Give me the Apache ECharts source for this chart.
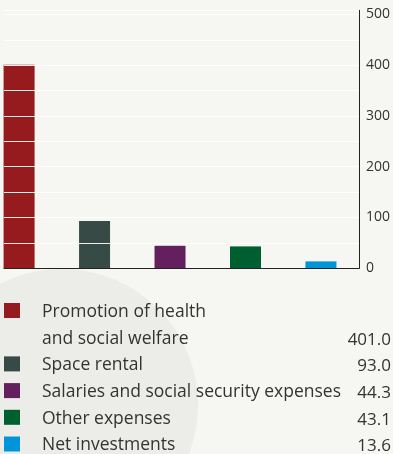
<!DOCTYPE html>
<html>
<head>
<meta charset="utf-8">
<script src="https://cdn.jsdelivr.net/npm/echarts@6/dist/echarts.min.js"></script>
<style>
  html, body { margin: 0; padding: 0; background: #f6f6f2; }
  #chart { width: 393px; height: 454px; }
</style>
</head>
<body>
<div id="chart"></div>
<script>
// Expense categories and amounts
const categories = [
  'Promotion of health\nand social welfare',
  'Space rental',
  'Salaries and social security expenses',
  'Other expenses',
  'Net investments'
];
const values = [401.0, 93.0, 44.3, 43.1, 13.6];
const yTicks = [0, 100, 200, 300, 400, 500];

// Palette, one colour per category
const palette = ['#961b1e', '#374a45', '#641f5e', '#005f31', '#0094d8'];

const chart = echarts.init(document.getElementById('chart'));
const font = '"Open Sans", "Noto Sans", sans-serif';
const textColor = '#333333';

// Legend block below the plot: swatch, name, value
const rowH = 26.7;
const legendTop = 300;
const graphics = [
  { type: 'circle', shape: { cx: 62, cy: 405, r: 136 }, style: { fill: '#ececE8' }, z: -10, silent: true }
];
let row = 0;
categories.forEach((name, i) => {
  const lines = name.split('\n');
  const y0 = legendTop + row * rowH;
  graphics.push({
    type: 'rect',
    shape: { x: 4, y: y0 + 3, width: 16, height: 15 },
    style: { fill: palette[i] }
  });
  lines.forEach((ln, k) => {
    graphics.push({
      type: 'text',
      x: 42, y: y0 + k * rowH + 12,
      style: { text: ln, font: '17.5px ' + font, fill: textColor, verticalAlign: 'middle', align: 'left' }
    });
  });
  graphics.push({
    type: 'text',
    x: 391, y: y0 + (lines.length - 1) * rowH + 13,
    style: { text: values[i].toFixed(1), font: '17px ' + font, fill: textColor, verticalAlign: 'middle', align: 'right' }
  });
  row += lines.length;
});

chart.setOption({
  backgroundColor: '#f6f6f2',
  animation: false,
  grid: { left: 4, right: 31.5, top: 10.3, bottom: 185.7 },
  xAxis: {
    type: 'value',
    min: -0.2,
    max: 4.504,
    z: 5,
    axisLine: { show: true, onZero: false, lineStyle: { color: '#222222', width: 1.2 } },
    axisTick: { show: false },
    axisLabel: { show: false },
    splitLine: { show: false }
  },
  yAxis: {
    type: 'value',
    position: 'right',
    min: 0,
    max: 508,
    interval: 50,
    z: 4,
    axisLine: { show: true, onZero: false, lineStyle: { color: '#222222', width: 1 } },
    axisTick: { show: false },
    axisLabel: {
      margin: 7,
      color: textColor,
      fontFamily: font,
      fontSize: 14,
      formatter: v => (yTicks.indexOf(v) >= 0 ? String(v) : '')
    },
    splitLine: { show: true, lineStyle: { color: 'rgba(255,255,255,0.9)', width: 1 } }
  },
  series: [{
    type: 'bar',
    barWidth: 31,
    data: values.map((v, i) => ({ value: [i, v], itemStyle: { color: palette[i] } }))
  }],
  graphic: graphics
});
</script>
</body>
</html>
